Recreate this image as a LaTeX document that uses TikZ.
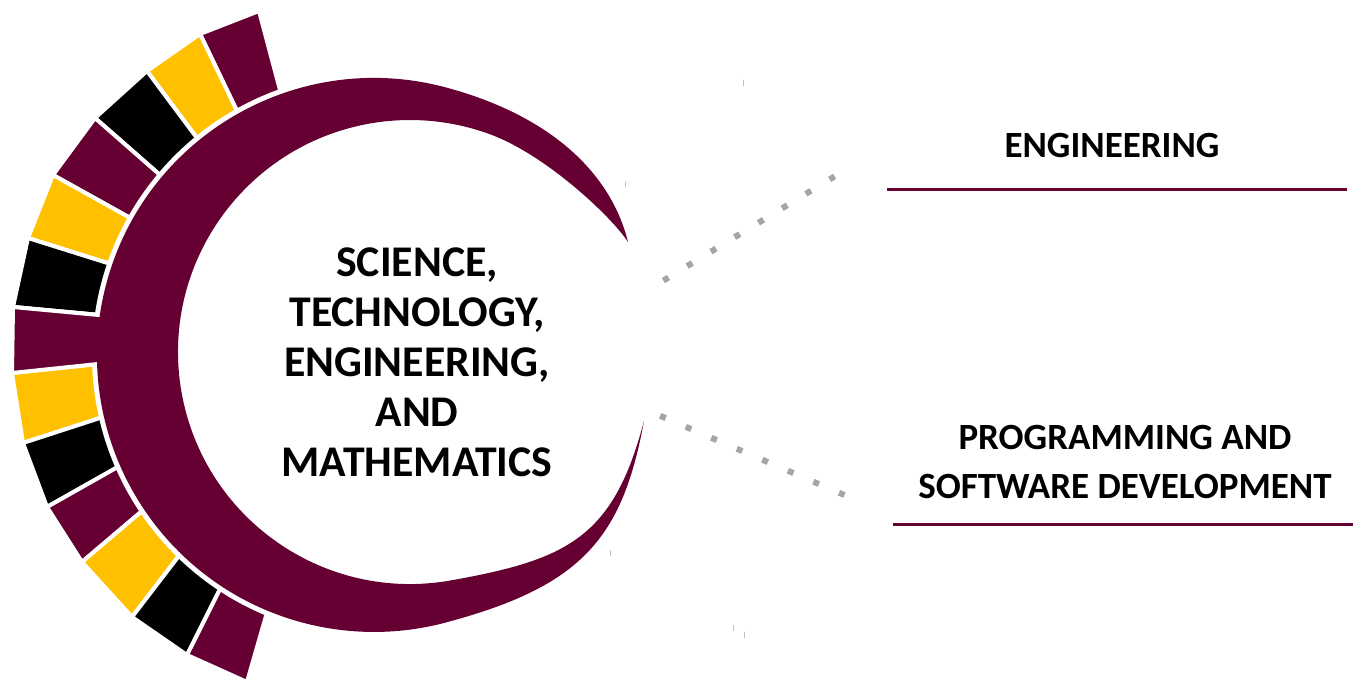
\documentclass[tikz,border=0pt]{standalone}
\usepackage{fontspec}
\setmainfont{Carlito}
\definecolor{maroon}{HTML}{660033}
\definecolor{gold}{HTML}{FFC000}
\definecolor{dotgray}{HTML}{A5A5A5}
\definecolor{tickgray}{HTML}{BFBFBF}
\tikzset{
  seg/.style={draw=white, line width=4pt, line join=miter},
  dotline/.style={dotgray, line width=6pt, line cap=butt, dash pattern=on 6pt off 21.8pt},
  rule/.style={maroon, line width=3.5pt},
  tick/.style={tickgray, line width=1pt},
  maintext/.style={font=\bfseries\fontsize{43.8}{50}\selectfont, align=center, inner sep=0pt},
  labeltext/.style={font=\bfseries\fontsize{37}{49}\selectfont, align=center, inner sep=0pt},
}
\begin{document}
\begin{tikzpicture}[x=1pt,y=-1pt]
\useasboundingbox (0,0) rectangle (1353,684);
% ring segment corners
\coordinate (P) at (346,338);
\coordinate (O0) at (259,11);
\coordinate (O1) at (200,34);
\coordinate (O2) at (147,71);
\coordinate (O3) at (95,118);
\coordinate (O4) at (53,175);
\coordinate (O5) at (28,238);
\coordinate (O6) at (13,307);
\coordinate (O7) at (12,373);
\coordinate (O8) at (23,443);
\coordinate (O9) at (47,507);
\coordinate (O10) at (82,562);
\coordinate (O11) at (132,617);
\coordinate (O12) at (187,655);
\coordinate (O13) at (247,682);
\foreach \i/\j/\col in {0/1/maroon,1/2/gold,2/3/black,3/4/maroon,4/5/gold,5/6/black,6/7/maroon,7/8/gold,8/9/black,9/10/maroon,10/11/gold,11/12/black,12/13/maroon}
  \filldraw[seg, fill=\col] (O\i) -- (O\j) -- (P) -- cycle;
% white gap
\fill[white] (374,355) circle (282);
% middle segment joins the crescent
\filldraw[seg, fill=maroon] (O6) -- (O7) -- (120,361.7) -- (120,317) -- cycle;
% crescent
\coordinate (T1) at (628,242);
\coordinate (T2) at (644,421);
\fill[maroon] (T1) .. controls (611.2,174.1) and (552,115.9) .. (445.7,87.4)
  arc[start angle=-75, end angle=-285, radius=277]
  .. controls (581.2,586.3) and (622.2,539) .. (T2)
  .. controls (613.5,537) and (568.5,559.6) .. (450.3,580.5)
  arc[start angle=80, end angle=290, radius=232]
  .. controls (545.7,154.5) and (611.7,216.8) .. (T1) -- cycle;
% texts
\node[maintext] (stem) at (417,362.5) {SCIENCE,\\TECHNOLOGY,\\ENGINEERING,\\AND\\MATHEMATICS};
\node[labeltext] (eng) at (1112,145) {ENGINEERING};
\node[labeltext] (prog) at (1125,462) {PROGRAMMING AND\\SOFTWARE DEVELOPMENT};
% rules
\coordinate (r1a) at (887,189.5);
\coordinate (r1b) at (1347,189.5);
\coordinate (r2a) at (893,524.5);
\coordinate (r2b) at (1353,524.5);
\draw[rule] (r1a) -- (r1b);
\draw[rule] (r2a) -- (r2b);
% dotted connectors
\coordinate (d1a) at (663.4,280.6);
\coordinate (d1b) at (834.6,176.4);
\coordinate (d2a) at (660.2,415.8);
\coordinate (d2b) at (844.8,495.2);
\draw[dotline] (d1a) -- (d1b);
\draw[dotline] (d2a) -- (d2b);
% small ticks
\draw[tick] (743.3,80) -- (743.3,86);
\draw[tick] (625.7,181.7) -- (625.7,187.3);
\draw[tick] (610.7,550) -- (610.7,555.5);
\draw[tick] (733.3,625) -- (733.3,630.7);
\draw[tick] (744.3,631.7) -- (744.3,637.7);
\end{tikzpicture}
\end{document}
